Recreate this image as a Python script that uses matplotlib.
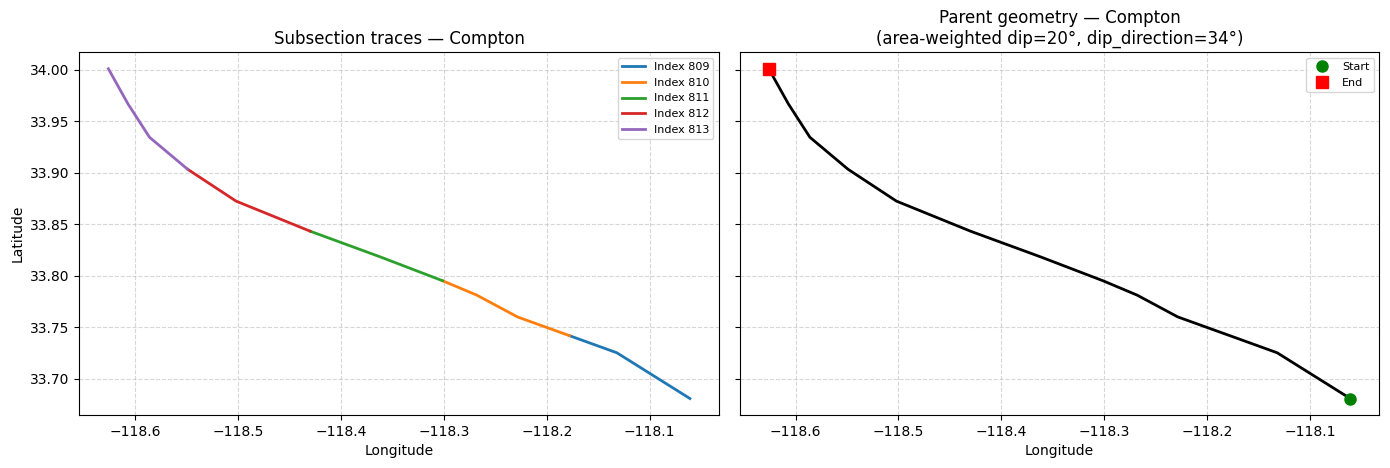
import matplotlib
matplotlib.use("Agg")
import matplotlib.pyplot as plt

# Subsection traces (ordered from south-east start to north-west end)
indices = [809, 810, 811, 812, 813]
lon_809 = [-118.061, -118.132, -118.178]
lat_809 = [33.681, 33.7254, 33.742]
lon_810 = [-118.178, -118.2286, -118.268, -118.3013]
lat_810 = [33.742, 33.7602, 33.7813, 33.7953]
lon_811 = [-118.3013, -118.362, -118.430]
lat_811 = [33.7953, 33.8185, 33.8434]
lon_812 = [-118.430, -118.502, -118.549]
lat_812 = [33.8434, 33.8726, 33.9035]
lon_813 = [-118.549, -118.586, -118.607, -118.626]
lat_813 = [33.9035, 33.9345, 33.967, 34.001]

lons = [lon_809, lon_810, lon_811, lon_812, lon_813]
lats = [lat_809, lat_810, lat_811, lat_812, lat_813]
colors = ["#1f77b4", "#ff7f0e", "#2ca02c", "#d62728", "#9467bd"]

name = "Compton"
dip = 20
dip_dir = 34

# Parent trace built from subsections
parent_lon = list(lons[0])
parent_lat = list(lats[0])
for lo, la in zip(lons[1:], lats[1:]):
    parent_lon += lo[1:]
    parent_lat += la[1:]

fig, (ax1, ax2) = plt.subplots(1, 2, figsize=(13.9, 4.68), dpi=100, sharey=True)
W, H = 1390, 468
ax1.set_position([79.3 / W, 1 - 415 / H, 639.7 / W, 362.7 / H])
ax2.set_position([739.7 / W, 1 - 415 / H, 639.6 / W, 362.7 / H])

for idx, lo, la, c in zip(indices, lons, lats, colors):
    ax1.plot(lo, la, color=c, lw=2, label=f"Index {idx}")
ax1.set_title(f"Subsection traces \u2014 {name}")
ax1.set_xlabel("Longitude")
ax1.set_ylabel("Latitude")
ax1.grid(True, linestyle="--", alpha=0.5)
ax1.legend(loc="upper right", fontsize=8)

ax2.plot(parent_lon, parent_lat, color="black", lw=2)
ax2.plot(parent_lon[0], parent_lat[0], "o", color="green", ms=8, label="Start")
ax2.plot(parent_lon[-1], parent_lat[-1], "s", color="red", ms=8, label="End")
ax2.set_title(f"Parent geometry \u2014 {name}\n(area-weighted dip={dip}\u00b0, dip_direction={dip_dir}\u00b0)")
ax2.set_xlabel("Longitude")
ax2.grid(True, linestyle="--", alpha=0.5)
ax2.legend(loc="upper right", fontsize=8)

fig.savefig("out.png", dpi=100)
